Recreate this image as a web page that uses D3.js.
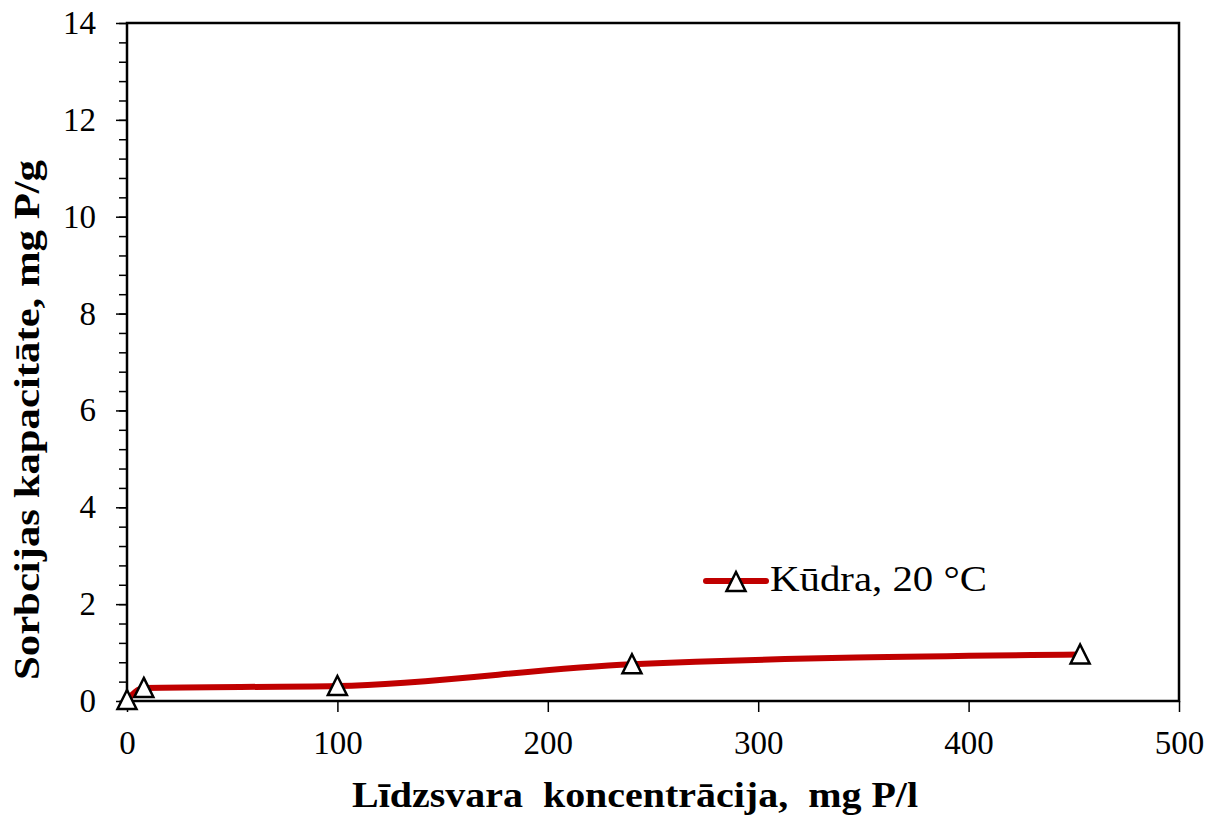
<!DOCTYPE html>
<html lang="en">
<head>
<meta charset="UTF-8">
<title>Sorbcijas kapacitāte</title>
<script src="https://d3js.org/d3.v7.min.js"></script>
<style>
  body { margin: 0; background: #fff; }
  svg text { font-family: "Liberation Serif", "Times New Roman", serif; fill: #000; }
</style>
</head>
<body>
<svg id="chart" width="1217" height="817"></svg>
<script>
// data
const concentration = [0, 8, 100, 240, 453];       // mg P/l
const capacity = [0.02, 0.27, 0.31, 0.76, 0.96];   // mg P/g
const seriesName = "Kūdra, 20 °C";
const xTicks = [0, 100, 200, 300, 400, 500];
const yTicks = [0, 2, 4, 6, 8, 10, 12, 14];

const margin = {top: 23, right: 38, bottom: 116, left: 127};
const width = 1217 - margin.left - margin.right;
const height = 817 - margin.top - margin.bottom;

const svg = d3.select("#chart");
const g = svg.append("g").attr("transform", `translate(${margin.left},${margin.top})`);

const x = d3.scaleLinear().domain([0, 500]).range([0, width]);
const y = d3.scaleLinear().domain([0, 14]).range([height, 0]);

// plot frame
g.append("rect")
  .attr("width", width).attr("height", height)
  .attr("fill", "none").attr("stroke", "#000").attr("stroke-width", 2.5);

// x axis
const xAxis = g.append("g").attr("transform", `translate(0,${height})`)
  .call(d3.axisBottom(x).tickValues(xTicks).tickSize(11).tickPadding(19));
xAxis.select(".domain").remove();
xAxis.selectAll("line").attr("stroke-width", 1.5);
xAxis.selectAll("text").attr("font-size", 33).attr("font-family", "Liberation Serif");

// y axis: minor ticks every 0.4
g.append("g")
  .call(d3.axisLeft(y).tickValues(d3.range(0, 14.01, 0.4)).tickSize(8).tickFormat(""))
  .call(a => a.select(".domain").remove())
  .selectAll("line").attr("stroke-width", 1.5);
const yAxis = g.append("g")
  .call(d3.axisLeft(y).tickValues(yTicks).tickSize(11).tickPadding(20));
yAxis.select(".domain").remove();
yAxis.selectAll("line").attr("stroke-width", 1.5);
yAxis.selectAll("text").attr("font-size", 33).attr("font-family", "Liberation Serif");

// series line (smoothed)
const pts = concentration.map((c, i) => [c, capacity[i]]);
const line = d3.line().x(d => x(d[0])).y(d => y(d[1])).curve(d3.curveMonotoneX);
g.append("path").datum(pts)
  .attr("d", line)
  .attr("fill", "none").attr("stroke", "#C00000").attr("stroke-width", 6)
  .attr("stroke-linecap", "round");

// triangle markers (a bit taller than equilateral)
const triangle = {
  draw(ctx) {
    ctx.moveTo(0, -10);
    ctx.lineTo(9.5, 9);
    ctx.lineTo(-9.5, 9);
    ctx.closePath();
  }
};
const tri = d3.symbol().type(triangle);
g.selectAll(".pt").data(pts).join("path")
  .attr("class", "pt")
  .attr("d", tri)
  .attr("transform", d => `translate(${x(d[0])},${y(d[1])})`)
  .attr("fill", "#fff").attr("stroke", "#000").attr("stroke-width", 2.5);

// legend
const lg = svg.append("g").attr("transform", "translate(706,581)");
lg.append("line").attr("x1", 0).attr("x2", 60).attr("y1", 0).attr("y2", 0)
  .attr("stroke", "#C00000").attr("stroke-width", 6).attr("stroke-linecap", "round");
lg.append("path").attr("d", tri).attr("transform", "translate(30,1)")
  .attr("fill", "#fff").attr("stroke", "#000").attr("stroke-width", 2.5);
lg.append("text").attr("x", 64).attr("y", 10).attr("font-size", 35)
  .attr("textLength", 217).attr("lengthAdjust", "spacingAndGlyphs")
  .text(seriesName);

// axis titles
svg.append("text")
  .attr("x", 635).attr("y", 807)
  .attr("text-anchor", "middle").attr("font-size", 36).attr("font-weight", "bold")
  .attr("textLength", 566).attr("lengthAdjust", "spacingAndGlyphs")
  .attr("xml:space", "preserve")
  .text("Līdzsvara  koncentrācija,  mg P/l");
svg.append("text")
  .attr("transform", "translate(39,420) rotate(-90)")
  .attr("text-anchor", "middle").attr("font-size", 36).attr("font-weight", "bold")
  .attr("textLength", 520).attr("lengthAdjust", "spacingAndGlyphs")
  .text("Sorbcijas kapacitāte, mg P/g");
</script>
</body>
</html>
